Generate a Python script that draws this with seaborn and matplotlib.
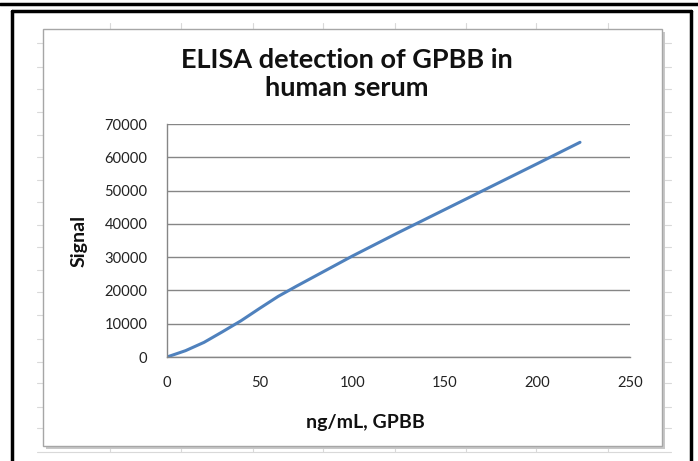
"""
ELISA detection of GPBB in human serum - recreated Excel-style line chart.
"""

import matplotlib
matplotlib.use("Agg")
import matplotlib.pyplot as plt
from matplotlib.lines import Line2D
from matplotlib.patches import Rectangle
import seaborn as sns
import pandas as pd

# data
concentracion = [0, 10, 20, 30, 40, 50, 60, 70, 80, 100, 125, 150, 175, 200, 223]
senal = [0, 1900, 4400, 7600, 10900, 14600, 18200, 21300, 24300, 30300,
         37400, 44300, 51200, 58100, 64500]
yticks = [0, 10000, 20000, 30000, 40000, 50000, 60000, 70000]
xticks = [0, 50, 100, 150, 200, 250]

W, H = 698, 461
sns.set_theme(style="white")
plt.rcParams['font.family'] = ['Lato', 'DejaVu Sans']

fig = plt.figure(figsize=(W / 100, H / 100), dpi=100)


def fx(px):
    return px / W


def fy(py):
    return 1 - py / H


# fondo tipo hoja de cálculo (líneas grises tenues)
gris_hoja = '#d9d9d9'
for cx in [110, 181, 253, 323, 395, 466, 536, 608]:
    fig.add_artist(Line2D([fx(cx), fx(cx)], [fy(23), fy(452)], color=gris_hoja, lw=0.8, zorder=-5))
for ry in [43, 67, 89, 112, 135, 157, 180, 202, 225, 247, 270, 292, 315, 339, 362, 383, 407, 428, 452]:
    fig.add_artist(Line2D([fx(37), fx(671)], [fy(ry), fy(ry)], color=gris_hoja, lw=0.8, zorder=-5))

# área del gráfico con sombra
fig.add_artist(Rectangle((fx(46), fy(449)), fx(619), fy(29) - fy(446),
                         facecolor='#c8c8c8', edgecolor='none', zorder=-4))
fig.add_artist(Rectangle((fx(43), fy(446)), fx(619), fy(29) - fy(446),
                         facecolor='white', edgecolor='#a6a6a6', lw=1, zorder=-3))

# bordes negros de la captura
for xs, ys in [([0, 1], [fy(4), fy(4)]),
               ([fx(12), fx(12)], [fy(11), 0]),
               ([fx(691), fx(691)], [fy(11), 0]),
               ([fx(12), fx(691)], [fy(11), fy(11)])]:
    fig.add_artist(Line2D(xs, ys, color='black', lw=2.5, zorder=5))

ax = fig.add_axes([fx(167), fy(357), fx(630) - fx(167), fy(124) - fy(357)])
ax.set_facecolor('none')
df = pd.DataFrame({'ng/mL': concentracion, 'Signal': senal})
sns.lineplot(data=df, x='ng/mL', y='Signal', ax=ax, color='#4f81bd', lw=2.2)

ax.set_xlim(0, 250)
ax.set_ylim(0, 70000)
ax.set_xticks(xticks)
ax.set_yticks(yticks)
ax.set_xticklabels([str(v) for v in xticks])
ax.set_yticklabels([str(v) for v in yticks])
ax.yaxis.grid(True, color='#868686', lw=1)
ax.xaxis.grid(False)
ax.set_axisbelow(True)
for s in ['top', 'right']:
    ax.spines[s].set_visible(False)
for s in ['left', 'bottom']:
    ax.spines[s].set_color('#868686')
    ax.spines[s].set_linewidth(1)
ax.tick_params(axis='y', length=0, pad=14, labelsize=10.6, labelcolor='#222222')
ax.tick_params(axis='x', length=0, pad=14, labelsize=10.6, labelcolor='#222222')

ax.set_xlabel('ng/mL, GPBB', fontsize=14, fontweight='bold', labelpad=13, color='#111111')
ax.xaxis.set_label_coords((365 - 167) / 463, -0.245)
ax.set_ylabel('Signal', fontsize=14, fontweight='bold', labelpad=12, color='#111111')

fig.text(fx(347), fy(74), 'ELISA detection of GPBB in\nhuman serum', ha='center', va='center',
         fontsize=19.5, fontweight='bold', color='#111111', linespacing=1.2)

plt.savefig('out.png', dpi=100)
plt.close()
